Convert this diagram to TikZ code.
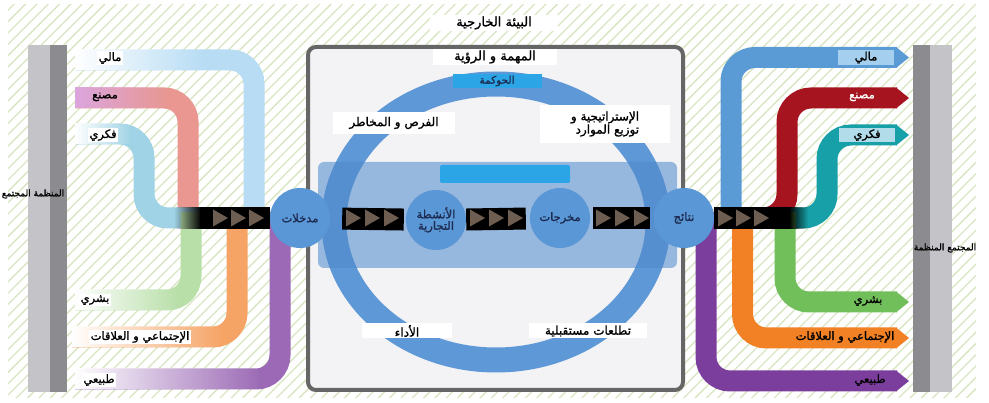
\documentclass[tikz,border=0pt]{standalone}
\usepackage{fontspec}
\newfontfamily\arf[Script=Arabic,FakeBold=1.2]{DejaVu Sans}
\TeXXeTstate=1
\usetikzlibrary{patterns.meta,fadings}
\newcommand\AR[1]{\beginR #1\endR}
\newcommand\fsz[1]{\arf\fontsize{#1}{#1}\selectfont}
\tikzfading[name=fadeR, left color=transparent!0, right color=transparent!100]
\tikzfading[name=fadeL, left color=transparent!100, right color=transparent!0]
\definecolor{hatchc}{HTML}{D8E6C2}
\definecolor{greyL}{HTML}{C4C4C8}
\definecolor{greyD}{HTML}{8C8C90}
\definecolor{boxfill}{HTML}{F3F3F5}
\definecolor{boxdraw}{HTML}{666666}
\definecolor{ringc}{HTML}{5F98D6}
\definecolor{bandc}{HTML}{4D88CC}
\definecolor{brightc}{HTML}{2BA5E6}
\definecolor{circc}{HTML}{5A97D6}
\definecolor{chevc}{HTML}{6E5E52}
\definecolor{navy}{HTML}{1D2B50}
\definecolor{lpA}{HTML}{B7DCF4}
\definecolor{lpB}{HTML}{E99790}
\definecolor{lpBa}{HTML}{DBA6DE}
\definecolor{lpC}{HTML}{9FD3E5}
\definecolor{lpD}{HTML}{B9DFA9}
\definecolor{lpE}{HTML}{F6A466}
\definecolor{lpF}{HTML}{9B69B5}
\definecolor{rpA}{HTML}{5B9BD5}
\definecolor{rpB}{HTML}{A6141F}
\definecolor{rpC}{HTML}{17A0A8}
\definecolor{rpD}{HTML}{71BF5B}
\definecolor{rpE}{HTML}{F28125}
\definecolor{rpF}{HTML}{7B3E9C}
\begin{document}
\begin{tikzpicture}[x=1pt,y=-1pt,
  lab/.style={font=\fsz{11.5}, inner sep=1.5pt, text=black},
  wlab/.style={lab, fill=white},
  rlab/.style={wlab, font=\fsz{12}},
  pipe/.style={line width=21pt, rounded corners=24pt},
  circ/.style={circle, fill=circc, minimum size=60pt, inner sep=0pt, align=center,
               font=\fsz{11.5}, text=navy},
  bar/.style={line width=22pt, draw=black},
  chev/.style={fill=chevc}]
\useasboundingbox (0,0) rectangle (989,403);
% background
\fill[white] (0,0) rectangle (989,403);
\fill[pattern={Lines[angle=45,distance=8pt,line width=1.3pt]}, pattern color=hatchc] (8,5) rectangle (976,398);
% grey side bars
\fill[greyL] (28,45) rectangle (50,392);
\fill[greyD] (50,45) rectangle (67,392);
\fill[greyD] (913,45) rectangle (930,392);
\fill[greyL] (930,45) rectangle (952,392);
\node[lab, font=\fsz{9}] (orgL) at (33,194) {\AR{المنظمة المجتمع}};
\node[lab, font=\fsz{9}] (orgR) at (945,248) {\AR{المجتمع المنظمة}};
% external environment
\node[wlab, font=\fsz{13}, minimum width=128pt, minimum height=14pt] (env) at (494,23) {\AR{البيئة الخارجية}};
% central box
\draw[line width=4pt, draw=boxdraw, fill=boxfill, rounded corners=8pt] (308,47) rectangle (683,390);
\node[wlab, font=\fsz{13}, minimum width=124pt, minimum height=14pt] (mission) at (495,57) {\AR{المهمة و الرؤية}};
% ring
\draw[line width=25pt, draw=ringc] (496,222) ellipse [x radius=162pt, y radius=138pt];
% band
\fill[bandc, opacity=0.55, rounded corners=6pt] (318,162) rectangle (677,268);
\fill[brightc, rounded corners=2pt] (440,165) rectangle (570,183);
\node[lab, fill=brightc, minimum width=89pt, minimum height=12pt, text=navy,
      font=\fsz{10.5}] (gov) at (497,81) {\AR{الحوكمة}};
% ring labels
\node[rlab, minimum width=122pt, minimum height=22pt] (risk) at (394,123) {\AR{الفرص و المخاطر}};
\node[rlab, minimum width=130pt, minimum height=38pt, align=right] (strat) at (605,124)
   {\AR{الإستراتيجية و}\\\AR{توزيع الموارد}};
\node[rlab, minimum width=90pt, minimum height=15pt] (perf) at (407,331) {\AR{الأداء}};
\node[rlab, minimum width=118pt, minimum height=15pt] (outl) at (588,331) {\AR{تطلعات مستقبلية}};
% left pipes (inputs)
\draw[pipe, lpA] (75,60) -- (254,60) -- (254,224);
\fill[white, path fading=fadeR] (75,49.5) rectangle (205,70.5);
\draw[pipe, lpB] (75,98) -- (188,98) -- (188,224);
\fill[lpBa, path fading=fadeR] (75,87.5) rectangle (170,108.5);
\draw[pipe, lpC] (75,134) -- (144,134) -- (144,218) -- (215,218);
\fill[white, path fading=fadeR] (75,123.5) rectangle (132,144.5);
\draw[pipe, lpD] (191,212) -- (191,300) -- (75,300);
\fill[white, path fading=fadeR] (75,289.5) rectangle (178,310.5);
\draw[pipe, lpE] (237,212) -- (237,337) -- (72,337);
\fill[white, path fading=fadeR] (72,326.5) rectangle (222,347.5);
\draw[pipe, lpF] (280,212) -- (280,379) -- (75,379);
\fill[white, path fading=fadeR] (75,368.5) rectangle (262,389.5);
% right pipes (outcomes)
\draw[pipe, rpA] (731,224) -- (731,57.5) -- (897,57.5);
\fill[rpA] (896,47) -- (909,57.5) -- (896,68) -- cycle;
\draw[pipe, rpB] (760,218) -- (787,218) -- (787,98) -- (897,98);
\fill[rpB] (896,87.5) -- (909,98) -- (896,108.5) -- cycle;
\draw[pipe, rpC] (775,218) -- (827,218) -- (827,135) -- (897,135);
\fill[rpC] (896,124.5) -- (909,135) -- (896,145.5) -- cycle;
\draw[pipe, rpD] (785,212) -- (785,302) -- (897,302);
\fill[rpD] (896,291.5) -- (909,302) -- (896,312.5) -- cycle;
\draw[pipe, rpE] (742.5,212) -- (742.5,338) -- (897,338);
\fill[rpE] (896,327.5) -- (909,338) -- (896,348.5) -- cycle;
\draw[pipe, rpF] (706,212) -- (706,381) -- (897,381);
\fill[rpF] (896,370.5) -- (909,381) -- (896,391.5) -- cycle;
% value creation flow
\node[circ] (inp) at (300,218) {\AR{مدخلات}};
\node[circ] (act) at (436,220) {\AR{الأنشطة}\\\AR{التجارية}};
\node[circ] (outp) at (560,218) {\AR{مخرجات}};
\node[circ] (res) at (684,218) {\AR{نتائج}};
\coordinate (lend) at (200,218);
\coordinate (rend) at (790,218);
\fill[black, path fading=fadeL] (174,207) rectangle (201,229);
\fill[black, path fading=fadeR] (789,207) rectangle (808,229);
\draw[bar] (lend) -- (inp);
\draw[bar, shorten <=12pt, shorten >=2pt] (inp) -- (act);
\draw[bar, shorten >=4pt] (act) -- (outp);
\draw[bar, shorten <=3pt, shorten >=4pt] (outp) -- (res);
\draw[bar] (res) -- (rend);
\foreach \x in {213,231,249,346,365,384,470,489,508,596,615,634,718,736,754}
  \fill[chev] (\x,209.5) -- (\x+15,218) -- (\x,226.5) -- cycle;
% input labels
\node[wlab] (iA) at (110,58) {\AR{مالي}};
\node[lab] (iB) at (105,97) {\AR{مصنع}};
\node[wlab] (iC) at (103,135) {\AR{فكري}};
\node[wlab] (iD) at (95,300) {\AR{بشري}};
\node[wlab] (iE) at (140,337) {\AR{الإجتماعي و العلاقات}};
\node[wlab] (iF) at (99,380) {\AR{طبيعي}};
% outcome labels
\node[lab, fill=lpA!80!rpA, minimum width=56pt] (oA) at (866,57.5) {\AR{مالي}};
\node[lab, text=white] (oB) at (862,97) {\AR{مصنع}};
\node[lab, fill=lpC!80!white, minimum width=56pt] (oC) at (867,135) {\AR{فكري}};
\node[lab] (oD) at (868,301) {\AR{بشري}};
\node[lab] (oE) at (845,337) {\AR{الإجتماعي و العلاقات}};
\node[lab] (oF) at (870,380) {\AR{طبيعي}};
\end{tikzpicture}
\end{document}
